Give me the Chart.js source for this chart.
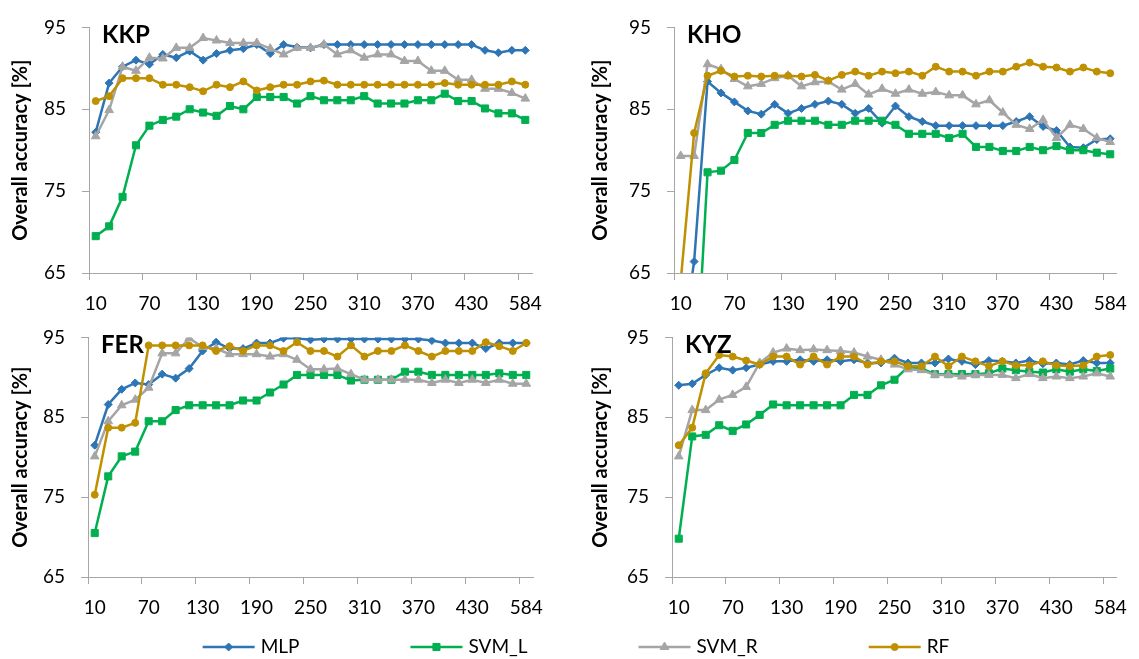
<!DOCTYPE html>
<html>
<head>
<meta charset="utf-8">
<script src="https://cdn.jsdelivr.net/npm/chart.js@4.4.1/dist/chart.umd.min.js"></script>
<style>
  html, body { margin: 0; padding: 0; background: #fff; }
  #wrap { position: relative; width: 1139px; height: 659px; overflow: hidden; }
  canvas { position: absolute; }
</style>
</head>
<body>
<div id="wrap">
  <canvas id="kkp"></canvas>
  <canvas id="kho"></canvas>
  <canvas id="fer"></canvas>
  <canvas id="kyz"></canvas>
  <canvas id="legend"></canvas>
</div>
<script>
// number of features (x categories), label shown every 4th
const categories = [10, 25, 40, 55, 70, 85, 100, 115, 130, 145, 160, 175, 190, 205, 220, 235,
  250, 265, 280, 295, 310, 325, 340, 355, 370, 385, 400, 415, 430, 445, 460, 475, 584];
const yTicks = [65, 75, 85, 95];

// ── KKP ───────────────────────────────────────────
const kkpMLP  = [82.2, 88.2, 90.2, 91.0, 90.5, 91.7, 91.3, 92.1, 91.0, 91.8, 92.2, 92.4, 92.9, 91.8, 92.9, 92.6, 92.5,
  92.9, 92.9, 92.9, 92.9, 92.9, 92.9, 92.9, 92.9, 92.9, 92.9, 92.9, 92.9, 92.2, 91.9, 92.2, 92.2];
const kkpSVML = [69.5, 70.7, 74.3, 80.6, 83.0, 83.7, 84.1, 85.0, 84.6, 84.2, 85.4, 85.0, 86.5, 86.5, 86.5, 85.7, 86.6,
  86.1, 86.1, 86.1, 86.6, 85.7, 85.7, 85.7, 86.1, 86.1, 86.9, 86.0, 86.0, 85.1, 84.5, 84.5, 83.7];
const kkpSVMR = [81.7, 84.9, 90.2, 89.7, 91.3, 91.2, 92.5, 92.5, 93.7, 93.4, 93.1, 93.1, 93.1, 92.4, 91.7, 92.5, 92.5,
  92.9, 91.7, 92.2, 91.3, 91.7, 91.7, 90.9, 90.9, 89.7, 89.7, 88.6, 88.6, 87.5, 87.5, 87.0, 86.3];
const kkpRF   = [86.0, 86.6, 88.8, 88.8, 88.8, 88.0, 88.0, 87.7, 87.2, 88.0, 87.7, 88.4, 87.3, 87.7, 88.0, 88.0, 88.4,
  88.5, 88.0, 88.0, 88.0, 88.0, 88.0, 88.0, 88.0, 88.0, 88.2, 88.0, 88.0, 88.0, 88.0, 88.4, 88.0];

// ── KHO ───────────────────────────────────────────
const khoMLP  = [55.0, 66.4, 88.4, 87.0, 85.9, 84.8, 84.4, 85.6, 84.5, 85.1, 85.6, 86.0, 85.6, 84.5, 85.1, 83.3, 85.4,
  84.1, 83.5, 83.0, 83.0, 83.0, 83.0, 83.0, 83.0, 83.5, 84.1, 82.9, 82.4, 80.4, 80.3, 81.3, 81.4];
const khoSVML = [46.0, 48.0, 77.3, 77.5, 78.8, 82.1, 82.1, 83.1, 83.6, 83.6, 83.6, 83.1, 83.1, 83.6, 83.6, 83.6, 83.1,
  82.0, 82.0, 82.0, 81.5, 82.0, 80.4, 80.4, 79.9, 79.9, 80.4, 80.0, 80.5, 80.0, 80.0, 79.7, 79.5];
const khoSVMR = [79.3, 79.3, 90.5, 89.9, 88.7, 87.8, 88.1, 88.8, 89.1, 87.8, 88.3, 88.4, 87.4, 88.1, 86.8, 87.5, 86.9,
  87.4, 86.9, 87.1, 86.7, 86.7, 85.6, 86.1, 84.6, 83.1, 82.6, 83.7, 81.5, 83.1, 82.6, 81.5, 81.0];
const khoRF   = [64.0, 82.1, 89.1, 89.7, 89.0, 89.1, 89.0, 89.1, 89.1, 89.0, 89.2, 88.5, 89.2, 89.6, 89.1, 89.6, 89.4,
  89.6, 89.1, 90.2, 89.6, 89.6, 89.1, 89.6, 89.6, 90.2, 90.7, 90.2, 90.1, 89.6, 90.1, 89.6, 89.4];

// ── FER ───────────────────────────────────────────
const ferMLP  = [81.5, 86.6, 88.5, 89.3, 89.1, 90.4, 89.9, 91.1, 93.3, 94.4, 93.6, 93.6, 94.3, 94.3, 94.9, 94.9, 94.7,
  94.8, 94.8, 94.8, 94.8, 94.8, 94.8, 94.8, 94.8, 94.6, 94.3, 94.3, 94.3, 93.6, 94.3, 94.3, 94.3];
const ferSVML = [70.5, 77.6, 80.1, 80.7, 84.5, 84.5, 85.9, 86.5, 86.5, 86.5, 86.5, 87.1, 87.1, 88.1, 89.1, 90.3, 90.3,
  90.3, 90.3, 89.6, 89.7, 89.7, 89.7, 90.7, 90.7, 90.3, 90.3, 90.3, 90.3, 90.3, 90.5, 90.3, 90.3];
const ferSVMR = [80.1, 84.5, 86.5, 87.2, 88.7, 93.0, 93.0, 94.9, 93.8, 93.6, 92.9, 92.9, 92.9, 92.6, 92.9, 92.2, 91.0,
  91.0, 91.1, 90.4, 89.7, 89.7, 89.7, 89.7, 89.7, 89.3, 89.7, 89.3, 89.7, 89.3, 89.7, 89.2, 89.2];
const ferRF   = [75.3, 83.7, 83.7, 84.3, 94.0, 94.0, 94.0, 94.0, 94.0, 93.3, 93.9, 93.3, 94.0, 94.0, 93.3, 94.4, 93.3,
  93.3, 92.6, 94.0, 92.6, 93.3, 93.3, 94.0, 93.3, 92.6, 93.3, 93.3, 93.3, 94.4, 93.9, 93.3, 94.3];

// ── KYZ ───────────────────────────────────────────
const kyzMLP  = [89.0, 89.2, 90.3, 91.2, 90.9, 91.2, 91.6, 92.0, 92.0, 92.2, 92.0, 92.2, 92.0, 92.2, 91.8, 91.8, 92.4,
  91.8, 91.8, 91.8, 92.3, 92.0, 91.6, 92.1, 92.0, 91.8, 92.1, 91.7, 91.8, 91.6, 92.1, 91.8, 91.8];
const kyzSVML = [69.8, 82.6, 82.8, 84.0, 83.3, 84.1, 85.3, 86.6, 86.5, 86.5, 86.5, 86.5, 86.5, 87.8, 87.8, 89.0, 89.7,
  91.3, 91.1, 90.4, 90.4, 90.4, 90.4, 90.5, 91.1, 90.9, 90.7, 90.6, 91.0, 90.7, 91.0, 90.8, 91.1];
const kyzSVMR = [80.1, 85.9, 85.9, 87.2, 87.8, 88.8, 91.8, 93.1, 93.6, 93.4, 93.5, 93.4, 93.3, 93.1, 92.6, 92.2, 91.6,
  91.0, 90.9, 90.3, 90.3, 90.1, 90.3, 90.3, 90.3, 89.9, 90.4, 89.9, 90.1, 89.9, 90.1, 90.5, 90.1];
const kyzRF   = [81.5, 83.7, 90.5, 92.8, 92.6, 92.1, 91.6, 92.6, 92.6, 91.6, 92.6, 91.6, 92.6, 92.6, 91.6, 92.0, 92.0,
  91.4, 91.4, 92.6, 91.4, 92.6, 92.0, 91.4, 92.0, 91.5, 91.5, 92.0, 91.5, 91.4, 91.5, 92.6, 92.8];

// ── Styles ────────────────────────────────────────
const FONT = "Lato, 'Liberation Sans', sans-serif";
const AXIS = '#a6a6a6';
Chart.defaults.font.family = FONT;
Chart.defaults.color = '#000';

const seriesStyle = [
  { label: 'MLP',   color: '#2e75b6', pointStyle: 'rectRot',  radius: 4 },
  { label: 'SVM_L', color: '#00b050', pointStyle: 'rect',     radius: 5 },
  { label: 'SVM_R', color: '#a5a5a5', pointStyle: 'triangle', radius: 5 },
  { label: 'RF',    color: '#bf9000', pointStyle: 'circle',   radius: 3.5 }
];

// panel placement on the page (chart area is fixed via padding + axis sizes)
const panels = [
  { id: 'kkp', title: 'KKP', values: [kkpMLP, kkpSVML, kkpSVMR, kkpRF], left: 0,   top: 0,   width: 560, height: 320, padTop: 19, padRight: 28, yWidth: 89, xHeight: 47 },
  { id: 'kho', title: 'KHO', values: [khoMLP, khoSVML, khoSVMR, khoRF], left: 580, top: 0,   width: 559, height: 320, padTop: 19, padRight: 17, yWidth: 94, xHeight: 47 },
  { id: 'fer', title: 'FER', values: [ferMLP, ferSVML, ferSVMR, ferRF], left: 0,   top: 310, width: 560, height: 322, padTop: 20, padRight: 27, yWidth: 88, xHeight: 55 },
  { id: 'kyz', title: 'KYZ', values: [kyzMLP, kyzSVML, kyzSVMR, kyzRF], left: 580, top: 310, width: 559, height: 322, padTop: 20, padRight: 15, yWidth: 92, xHeight: 55 }
];

// ── Panel title (KKP, KHO ...) inside plot area ───
const panelTitlePlugin = {
  id: 'panelTitle',
  afterDatasetsDraw(chart, args, opts) {
    const { ctx, chartArea } = chart;
    ctx.save();
    ctx.font = `bold 24px ${FONT}`;
    ctx.fillStyle = '#000';
    ctx.textAlign = 'left';
    ctx.textBaseline = 'alphabetic';
    ctx.fillText(opts.text, chartArea.left + 13, chartArea.top + 16);
    ctx.restore();
  }
};

function renderPanel(p) {
  const el = document.getElementById(p.id);
  el.style.left = p.left + 'px';
  el.style.top = p.top + 'px';
  el.width = p.width;
  el.height = p.height;

  return new Chart(el, {
    type: 'line',
    data: {
      labels: categories,
      datasets: seriesStyle.map((s, k) => ({
        label: s.label,
        data: p.values[k],
        borderColor: s.color,
        backgroundColor: s.color,
        borderWidth: 2.5,
        pointStyle: s.pointStyle,
        pointRadius: s.radius,
        pointBorderWidth: 1,
        pointBackgroundColor: s.color,
        pointBorderColor: s.color,
        tension: 0,
        fill: false,
        order: seriesStyle.length - 1 - k
      }))
    },
    options: {
      responsive: false,
      animation: false,
      devicePixelRatio: 1,
      layout: { padding: { top: p.padTop, right: p.padRight, left: 0, bottom: 0 } },
      plugins: {
        legend: { display: false },
        tooltip: { enabled: false },
        panelTitle: { text: p.title }
      },
      scales: {
        x: {
          type: 'category',
          offset: true,
          grid: {
            offset: true,
            drawOnChartArea: false,
            drawTicks: true,
            tickLength: 7,
            lineWidth: 1,
            color: ctx => (ctx.index !== undefined && ctx.index % 4 === 0) ? AXIS : 'rgba(0,0,0,0)'
          },
          border: { display: true, color: AXIS, width: 1 },
          ticks: {
            autoSkip: false,
            maxRotation: 0,
            minRotation: 0,
            padding: 12,
            color: '#000',
            font: { size: 19 },
            callback: (v, i) => (i % 4 === 0 ? String(categories[i]) : '')
          },
          afterFit: s => { s.height = p.xHeight; }
        },
        y: {
          min: yTicks[0],
          max: yTicks[yTicks.length - 1],
          afterBuildTicks: s => { s.ticks = yTicks.map(v => ({ value: v })); },
          grid: { drawOnChartArea: false, drawTicks: true, tickLength: 7, color: AXIS, lineWidth: 1 },
          border: { display: true, color: AXIS, width: 1 },
          ticks: { padding: 16, color: '#000', font: { size: 19 } },
          title: {
            display: true,
            text: 'Overall accuracy [%]',
            color: '#000',
            font: { size: 20, weight: 'bold' },
            padding: { top: 9, bottom: 0 }
          },
          afterFit: s => { s.width = p.yWidth; }
        }
      }
    },
    plugins: [panelTitlePlugin]
  });
}

panels.forEach(renderPanel);

// ── Shared legend (line + marker, like the spreadsheet legend) ───
const LEGEND_LINE = 52, LEGEND_TEXT_GAP = 6, LEGEND_ITEM_GAP = 111, LEGEND_CENTER = 576;

const lineLegendPlugin = {
  id: 'lineLegend',
  afterDraw(chart) {
    const ctx = chart.ctx;
    const y = 22;
    ctx.save();
    ctx.font = `19px ${FONT}`;
    const sets = chart.data.datasets;
    const widths = sets.map(ds => LEGEND_LINE + LEGEND_TEXT_GAP + ctx.measureText(ds.label).width);
    const total = widths.reduce((a, b) => a + b, 0) + LEGEND_ITEM_GAP * (sets.length - 1);
    let x = LEGEND_CENTER - total / 2;
    sets.forEach((ds, k) => {
      ctx.strokeStyle = ds.borderColor;
      ctx.lineWidth = 2.5;
      ctx.beginPath();
      ctx.moveTo(x, y);
      ctx.lineTo(x + LEGEND_LINE, y);
      ctx.stroke();

      ctx.fillStyle = ds.borderColor;
      ctx.lineWidth = 1;
      Chart.helpers.drawPoint(ctx, {
        pointStyle: ds.pointStyle, radius: ds.pointRadius, rotation: 0, borderWidth: 1
      }, x + LEGEND_LINE / 2, y);

      ctx.fillStyle = '#000';
      ctx.textAlign = 'left';
      ctx.textBaseline = 'middle';
      ctx.fillText(ds.label, x + LEGEND_LINE + LEGEND_TEXT_GAP, y);
      x += widths[k] + LEGEND_ITEM_GAP;
    });
    ctx.restore();
  }
};

(function renderLegend() {
  const el = document.getElementById('legend');
  el.style.left = '0px';
  el.style.top = '625px';
  el.width = 1139;
  el.height = 34;
  new Chart(el, {
    type: 'line',
    data: {
      labels: [],
      datasets: seriesStyle.map(s => ({
        label: s.label, data: [], borderColor: s.color, backgroundColor: s.color,
        pointStyle: s.pointStyle, pointRadius: s.radius
      }))
    },
    options: {
      responsive: false,
      animation: false,
      devicePixelRatio: 1,
      plugins: { legend: { display: false }, tooltip: { enabled: false } },
      scales: { x: { display: false }, y: { display: false } }
    },
    plugins: [lineLegendPlugin]
  });
})();
</script>
</body>
</html>
